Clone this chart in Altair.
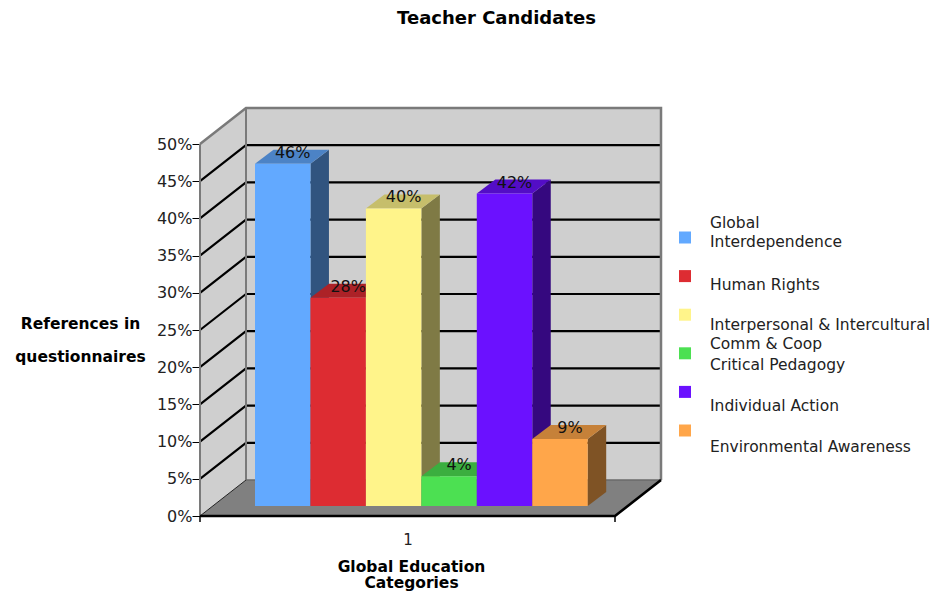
import altair as alt
import pandas as pd

# ---------------- data ----------------
categories = [
    "Global Interdependence",
    "Human Rights",
    "Interpersonal & Intercultural Comm & Coop",
    "Critical Pedagogy",
    "Individual Action",
    "Environmental Awareness",
]
legend_labels = [
    "Global\nInterdependence",
    "Human Rights",
    "Interpersonal & Intercultural\nComm & Coop",
    "Critical Pedagogy",
    "Individual Action",
    "Environmental Awareness",
]
values = [0.46, 0.28, 0.40, 0.04, 0.42, 0.09]
y_ticks = [0.0, 0.05, 0.10, 0.15, 0.20, 0.25, 0.30, 0.35, 0.40, 0.45, 0.50]
x_tick_label = "1"
title_text = "Teacher Candidates"
y_title = ["References in", "questionnaires"]
x_title = ["Global Education", "Categories"]

# ---------------- styles ----------------
front_colors = ["#62A9FF", "#DD2C32", "#FFF48A", "#4CE052", "#6B11FF", "#FFA64A"]
WALL_FILL = "#CFCFCF"
FLOOR_FILL = "#808080"
EDGE_GRAY = "#7A7A7A"
FONT = "DejaVu Sans"


def shade(hex_color, f):
    h = hex_color.lstrip("#")
    r, g, b = (int(h[i:i + 2], 16) for i in (0, 2, 4))
    return "#{:02X}{:02X}{:02X}".format(int(r * f), int(g * f), int(b * f))


# ---------------- layout (pixels) ----------------
W, H = 463, 408                 # plot area
PX = 744.0                      # pixels per 100 %
YMAX = H / PX
WALL_DX = 46                    # depth of the walls
WALL_DY = 36 / PX
FLOOR_W = 415
BAR_X0 = 55
BAR_W = 55.45
BAR_BASE = 10 / PX
BAR_DX = 18.5
BAR_DY = 14 / PX
TICK_LEN = 6 / PX
TOPV = y_ticks[-1]
BOTTOM_PAGE_Y = 516             # page y of the plot bottom
MID = FLOOR_W / 2


def ypx(page_y):
    return (BOTTOM_PAGE_Y - page_y) / PX


xs = alt.Scale(domain=[0, W], nice=False, zero=False)
ys = alt.Scale(domain=[0, YMAX], nice=False, zero=False)

# one identical axis definition, shared by every layer
AX_X = alt.Axis(
    values=[MID], domain=False, grid=False, ticks=False,
    labelExpr=f"'{x_tick_label}'",
    labelFont=FONT, labelFontSize=15, labelColor="#222", labelPadding=16,
    title=x_title, titleFont=FONT, titleFontSize=15.5, titleFontWeight="bold",
    titleColor="black", titleAlign="center", titleBaseline="alphabetic",
    titleX=211, titleY=55, titleLineHeight=16.5,
)
AX_Y = alt.Axis(
    values=y_ticks, format=".0%", domain=False, grid=False,
    tickSize=8, tickColor="black", tickWidth=1,
    labelFont=FONT, labelFontSize=16, labelColor="#222", labelPadding=0,
    title=y_title, titleAngle=0, titleFont=FONT, titleFontSize=15.5,
    titleFontWeight="bold", titleColor="black", titleAlign="center",
    titleBaseline="alphabetic", titleX=-120, titleY=220, titleLineHeight=33.5,
)


def X(f):
    return alt.X(f, type="quantitative", scale=xs, axis=AX_X)


def Y(f):
    return alt.Y(f, type="quantitative", scale=ys, axis=AX_Y, stack=None)


def polygon(xs_, lo, hi, fill):
    """Filled shape between two edges that share x positions."""
    df = pd.DataFrame({"x": xs_, "lo": lo, "hi": hi})
    return alt.Chart(df).mark_area(color=fill, opacity=1, interpolate="linear").encode(
        x=X("x"), y=Y("lo"), y2=alt.Y2("hi"),
    )


# ---------------- walls & floor ----------------
d = WALL_DY
R = FLOOR_W + WALL_DX
wall_layers = [
    polygon([WALL_DX, R], [d, d], [TOPV + d, TOPV + d], WALL_FILL),
    polygon([0, WALL_DX], [0, d], [TOPV, TOPV + d], WALL_FILL),
    polygon([0, WALL_DX, FLOOR_W, R], [0, 0, 0, d], [0, d, d, d], FLOOR_FILL),
]

# ---------------- grid / edge lines ----------------
lines = []
for k, L in enumerate(y_ticks[1:-1]):
    for s, (x, y) in enumerate([(0, L), (WALL_DX, L + d), (R, L + d)]):
        lines.append((f"g{k}", s, x, y, "black", 2.2))
for s, (x, y) in enumerate([(0, 0), (WALL_DX, d)]):
    lines.append(("floorleft", s, x, y, "#222", 1))
for s, (x, y) in enumerate([(0, 0), (0, TOPV)]):
    lines.append(("frontleft", s, x, y, EDGE_GRAY, 2))
for s, (x, y) in enumerate([(0, TOPV), (WALL_DX, TOPV + d), (R, TOPV + d), (R, d)]):
    lines.append(("top", s, x, y, EDGE_GRAY, 2.5))
for s, (x, y) in enumerate([(WALL_DX, d), (WALL_DX, TOPV + d)]):
    lines.append(("backleft", s, x, y, EDGE_GRAY, 2))
for s, (x, y) in enumerate([(WALL_DX, d), (R, d)]):
    lines.append(("backbottom", s, x, y, "#6A6A6A", 1.5))
for s, (x, y) in enumerate([(0, 0), (FLOOR_W, 0), (R, d)]):
    lines.append(("front", s, x, y, "black", 2.6))
for k, xt in enumerate([0, FLOOR_W]):          # category-axis end ticks
    for s, y in enumerate([0, -TICK_LEN]):
        lines.append((f"xt{k}", s, xt, y, "black", 1.5))
lines_df = pd.DataFrame(lines, columns=["id", "seq", "x", "y", "col", "w"])

lines_layer = alt.Chart(lines_df).mark_line(strokeCap="butt").encode(
    x=X("x"), y=Y("y"), detail="id:N", order="seq:Q",
    color=alt.Color("col:N", scale=None),
    strokeWidth=alt.StrokeWidth("w:Q", scale=None),
)

# ---------------- bars ----------------
side_layers, top_layers, fronts, labels = [], [], [], []
for i, (cat, v, c) in enumerate(zip(categories, values, front_colors)):
    x0 = BAR_X0 + i * BAR_W
    x1 = x0 + BAR_W
    top = BAR_BASE + v
    fronts.append((cat, x0, x1, BAR_BASE, top, c))
    side_layers.append(polygon([x1, x1 + BAR_DX], [BAR_BASE, BAR_BASE + BAR_DY],
                               [top, top + BAR_DY], shade(c, 0.5)))
    top_layers.append(polygon([x0, x0 + BAR_DX, x1, x1 + BAR_DX],
                              [top, top, top, top + BAR_DY],
                              [top, top + BAR_DY, top + BAR_DY, top + BAR_DY],
                              shade(c, 0.78)))
    labels.append((cat, (x0 + x1) / 2 + 10, top, f"{round(v * 100)}%"))

fronts_df = pd.DataFrame(fronts, columns=["cat", "x", "x2", "y", "y2", "fill"])
labels_df = pd.DataFrame(labels, columns=["cat", "x", "y", "text"])

fronts_layer = alt.Chart(fronts_df).mark_rect().encode(
    x=X("x"), x2="x2:Q", y=Y("y"), y2="y2:Q",
    color=alt.Color("fill:N", scale=None),
)
labels_layer = alt.Chart(labels_df).mark_text(
    font=FONT, fontSize=16, color="#111", baseline="alphabetic", align="center", dy=-6,
).encode(x=X("x"), y=Y("y"), text="text:N")

# ---------------- legend ----------------
LEG_SQ_X = 485
LEG_TX_X = 510
leg_sq = pd.DataFrame({
    "cat": categories,
    "x": [LEG_SQ_X] * 6,
    "y": [ypx(237.5 + 38.6 * i) for i in range(6)],
    "fill": front_colors,
})
LEG_TEXT_PAGE_Y = [228, 290, 330, 370, 411, 452]
leg_tx = pd.DataFrame({
    "label": legend_labels,
    "x": [LEG_TX_X] * 6,
    "y": [ypx(p) for p in LEG_TEXT_PAGE_Y],
})
leg_sq_layer = alt.Chart(leg_sq).mark_square(size=144, opacity=1).encode(
    x=X("x"), y=Y("y"), color=alt.Color("fill:N", scale=None),
)
leg_tx_layer = alt.Chart(leg_tx).mark_text(
    font=FONT, fontSize=15.5, color="#222", align="left", baseline="alphabetic",
    lineBreak="\n", lineHeight=19,
).encode(x=X("x"), y=Y("y"), text="label:N")

chart = alt.layer(
    *wall_layers, lines_layer, *side_layers, *top_layers, fronts_layer,
    labels_layer, leg_sq_layer, leg_tx_layer,
).properties(
    width=W, height=H,
    autosize=alt.AutoSizeParams(type="none"),
    padding={"left": 192, "top": 100, "right": 272, "bottom": 76},
    title=alt.TitleParams(
        title_text, anchor="middle", frame="group", dx=65, offset=61,
        baseline="alphabetic", font=FONT, fontSize=18, fontWeight="bold", color="black",
    ),
    background="white",
).configure_view(stroke=None)

chart.save("out.html", embed_options={"renderer": "svg", "actions": False})
